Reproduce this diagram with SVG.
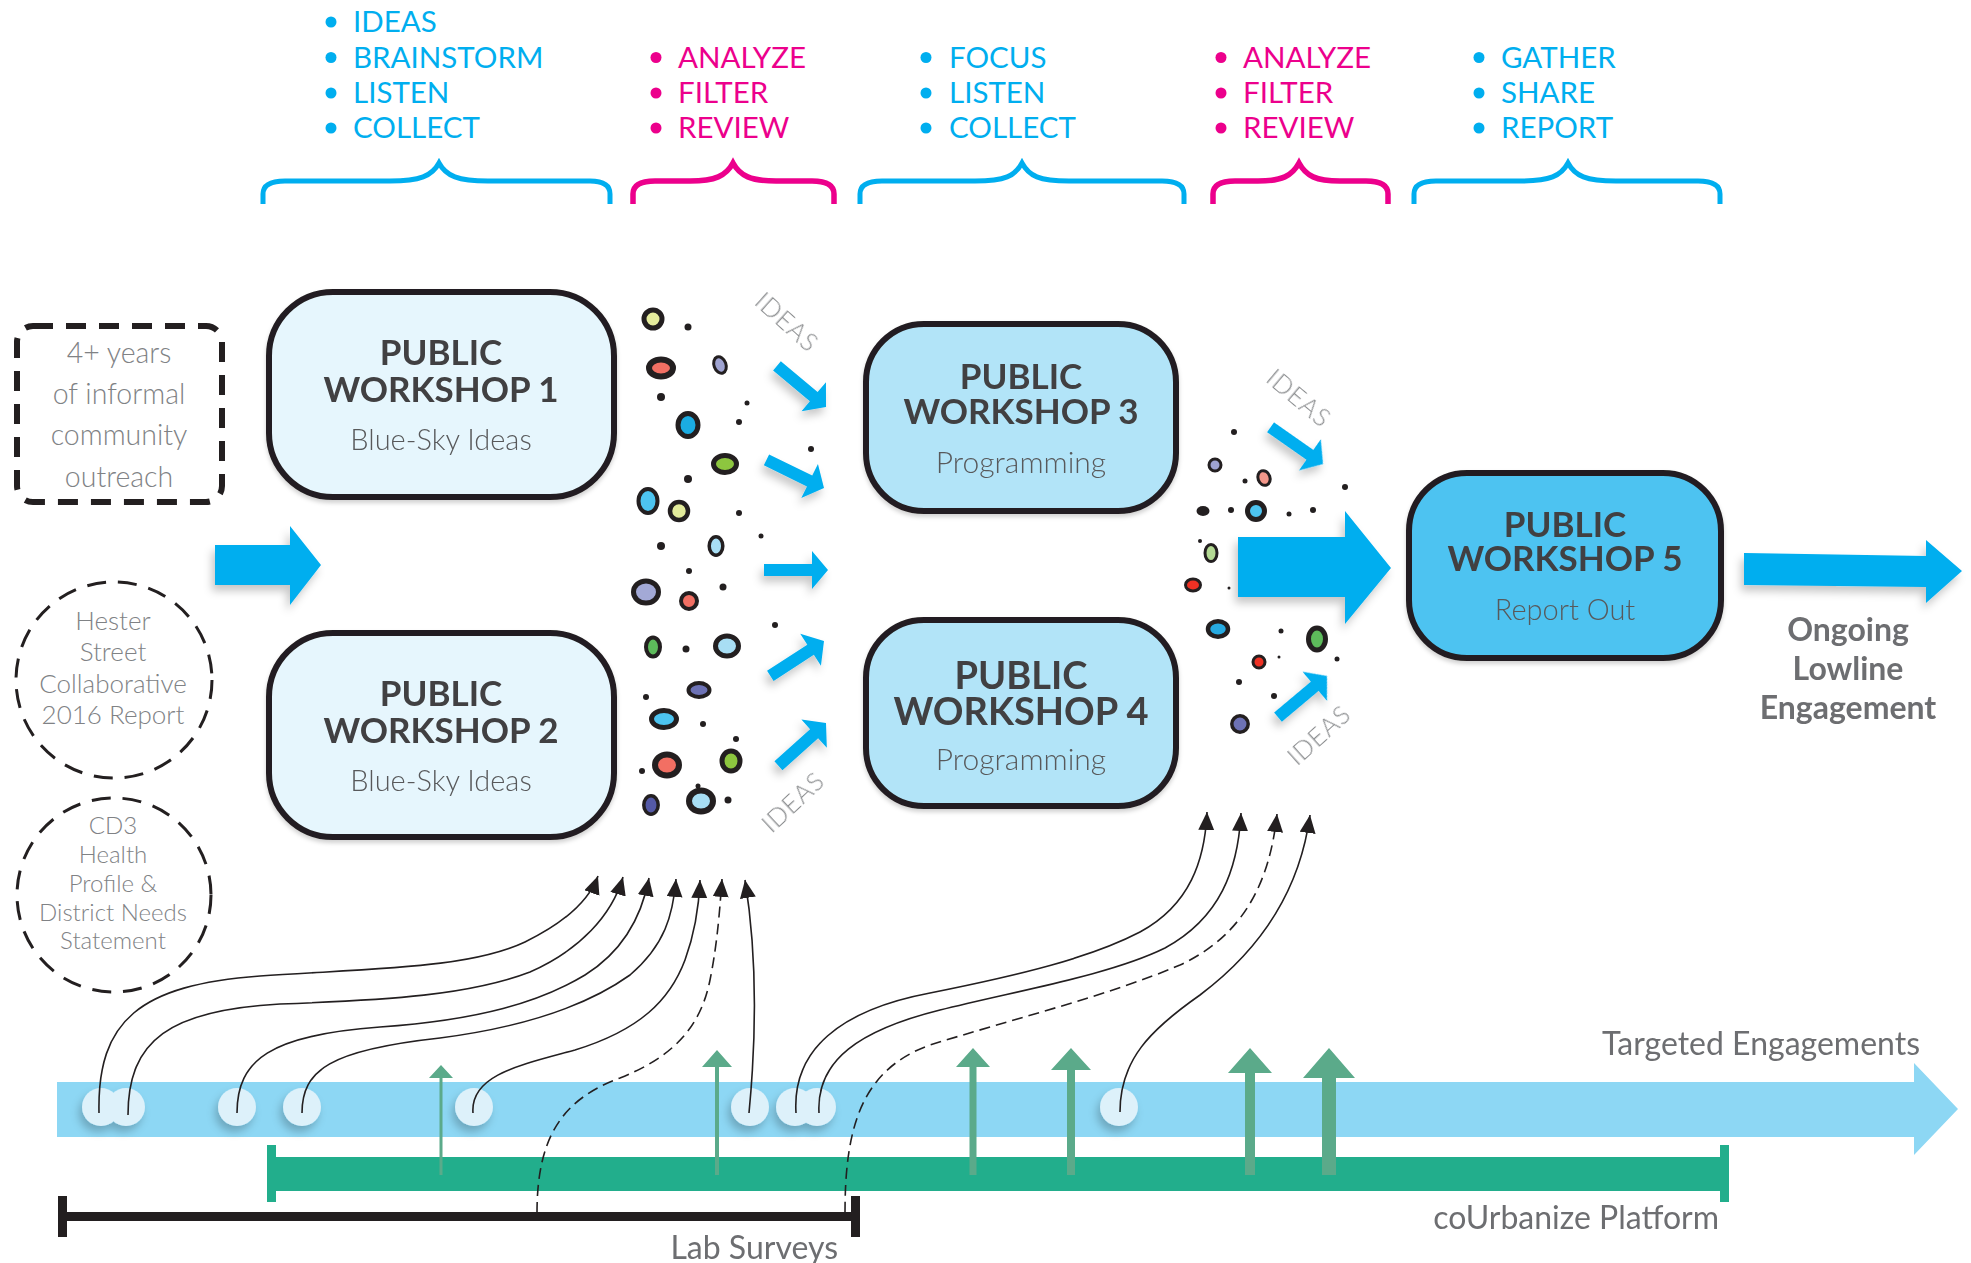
<svg xmlns="http://www.w3.org/2000/svg" xmlns:xlink="http://www.w3.org/1999/xlink" width="1971" height="1263" viewBox="0 0 1971 1263">
<defs>
<style>
text{font-family:Lato,"Liberation Sans",sans-serif}
.lb{fill:#00AEEF;font-size:29.5px}
.lp{fill:#EC008C;font-size:29.5px}
.bb{fill:#00AEEF}
.bp{fill:#EC008C}
.brb{fill:none;stroke:#00AEEF;stroke-width:5;stroke-linecap:butt}
.brp{fill:none;stroke:#EC008C;stroke-width:5.5}
.box{stroke:#231F20;stroke-width:6}
.t1{fill:#414042;font-size:35px;font-weight:700;text-anchor:middle}
.t2{fill:#58595B;font-size:29px;font-weight:300;text-anchor:middle}
.gray{fill:#808285;font-weight:300;text-anchor:middle}
.ideas{fill:#8A8C8E;font-size:25px;font-weight:300;text-anchor:middle;letter-spacing:1px}
.barrow{fill:#00AEEF}
.bub{stroke:#231F20}
.dot{fill:#231F20}
.cur{fill:none;stroke:#231F20;stroke-width:1.6;marker-end:url(#ah)}
.dash{stroke-dasharray:11 6}
.garrow{fill:#5BAA8A}
.bc{fill:#DDF1FA}
.lbl{fill:#6D6E71;font-size:32px;text-anchor:end}
</style>
<filter id="sh" x="-40%" y="-40%" width="180%" height="180%"><feDropShadow dx="-3" dy="6" stdDeviation="4" flood-color="#000" flood-opacity="0.22"/></filter>
<filter id="sh2" x="-20%" y="-20%" width="140%" height="140%"><feDropShadow dx="0" dy="3" stdDeviation="2" flood-color="#000" flood-opacity="0.18"/></filter>
<marker id="ah" markerUnits="userSpaceOnUse" markerWidth="20" markerHeight="18" refX="18" refY="8" orient="auto"><path d="M0,0 L18,8 L0,16 Z" fill="#231F20"/></marker>
<path id="sa" d="M-64,-6 H-16 V-19 L0,0 L-16,19 V6 H-64 Z"/>
</defs>

<g id="lists">
<circle class="bb" cx="331" cy="22" r="5.5"/><text class="lb" x="353" y="32">IDEAS</text>
<circle class="bb" cx="331" cy="57.5" r="5.5"/><text class="lb" x="353" y="67.5">BRAINSTORM</text>
<circle class="bb" cx="331" cy="93" r="5.5"/><text class="lb" x="353" y="103">LISTEN</text>
<circle class="bb" cx="331" cy="128" r="5.5"/><text class="lb" x="353" y="138">COLLECT</text>

<circle class="bp" cx="656" cy="57.5" r="5.5"/><text class="lp" x="678" y="67.5">ANALYZE</text>
<circle class="bp" cx="656" cy="93" r="5.5"/><text class="lp" x="678" y="103">FILTER</text>
<circle class="bp" cx="656" cy="128" r="5.5"/><text class="lp" x="678" y="138">REVIEW</text>

<circle class="bb" cx="926" cy="57.5" r="5.5"/><text class="lb" x="949" y="67.5">FOCUS</text>
<circle class="bb" cx="926" cy="93" r="5.5"/><text class="lb" x="949" y="103">LISTEN</text>
<circle class="bb" cx="926" cy="128" r="5.5"/><text class="lb" x="949" y="138">COLLECT</text>

<circle class="bp" cx="1221" cy="57.5" r="5.5"/><text class="lp" x="1243" y="67.5">ANALYZE</text>
<circle class="bp" cx="1221" cy="93" r="5.5"/><text class="lp" x="1243" y="103">FILTER</text>
<circle class="bp" cx="1221" cy="128" r="5.5"/><text class="lp" x="1243" y="138">REVIEW</text>

<circle class="bb" cx="1479" cy="57.5" r="5.5"/><text class="lb" x="1501" y="67.5">GATHER</text>
<circle class="bb" cx="1479" cy="93" r="5.5"/><text class="lb" x="1501" y="103">SHARE</text>
<circle class="bb" cx="1479" cy="128" r="5.5"/><text class="lb" x="1501" y="138">REPORT</text>
</g>

<g id="brackets">
<path class="brb" d="M263,204 V194 Q263,181 285,181 H390 C420,181 432,176 439,163 C446,176 458,181 488,181 H590 Q610,181 610,194 V204"/>
<path class="brp" d="M633,204 V194 Q633,181 655,181 H690 C715,181 726,176 733,163 C740,176 751,181 776,181 H812 Q834,181 834,194 V204"/>
<path class="brb" d="M860,204 V194 Q860,181 882,181 H975 C1005,181 1015,176 1022,163 C1029,176 1039,181 1069,181 H1162 Q1184,181 1184,194 V204"/>
<path class="brp" d="M1213,204 V194 Q1213,181 1235,181 H1258 C1282,181 1292,176 1299,163 C1306,176 1316,181 1340,181 H1366 Q1388,181 1388,194 V204"/>
<path class="brb" d="M1414,204 V194 Q1414,181 1436,181 H1520 C1550,181 1561,176 1568,163 C1575,176 1586,181 1616,181 H1698 Q1720,181 1720,194 V204"/>
</g>

<g id="outreach">
<rect x="17" y="326" width="205" height="176" rx="16" fill="none" stroke="#231F20" stroke-width="6" stroke-dasharray="20 13"/>
<text class="gray" style="font-size:28.5px" x="119" y="363">4+ years</text>
<text class="gray" style="font-size:28.5px" x="119" y="404">of informal</text>
<text class="gray" style="font-size:28.5px" x="119" y="445">community</text>
<text class="gray" style="font-size:28.5px" x="119" y="487">outreach</text>
</g>

<g id="hester">
<circle cx="114" cy="680" r="98" fill="none" stroke="#231F20" stroke-width="3" stroke-dasharray="19 12"/>
<text class="gray" style="font-size:26px" x="113" y="630">Hester</text>
<text class="gray" style="font-size:26px" x="113" y="661">Street</text>
<text class="gray" style="font-size:26px" x="113" y="693">Collaborative</text>
<text class="gray" style="font-size:26px" x="113" y="724">2016 Report</text>
</g>

<g id="cd3">
<circle cx="114" cy="895" r="97" fill="none" stroke="#231F20" stroke-width="3" stroke-dasharray="19 12"/>
<text class="gray" style="font-size:24px" x="113" y="834">CD3</text>
<text class="gray" style="font-size:24px" x="113" y="863">Health</text>
<text class="gray" style="font-size:24px" x="113" y="892">Profile &amp;</text>
<text class="gray" style="font-size:24px" x="113" y="921">District Needs</text>
<text class="gray" style="font-size:24px" x="113" y="949">Statement</text>
</g>

<g id="arrows-blue" filter="url(#sh)">
<polygon class="barrow" points="215,545 290,545 290,526 321,565 290,605 290,585 215,585"/>
<polygon class="barrow" points="1238,537 1345,537 1345,511 1391,568 1345,624 1345,597 1238,597"/>
<polygon class="barrow" points="1744,553 1926,556 1926,540 1962,571 1926,603 1926,587 1744,585"/>
<use href="#sa" class="barrow" transform="translate(826,407) rotate(40)"/>
<use href="#sa" class="barrow" transform="translate(824,488) rotate(26)"/>
<use href="#sa" class="barrow" transform="translate(828,570)"/>
<use href="#sa" class="barrow" transform="translate(824,641) rotate(-33)"/>
<use href="#sa" class="barrow" transform="translate(826,723) rotate(-42)"/>
<use href="#sa" class="barrow" transform="translate(1323,464) rotate(35)"/>
<use href="#sa" class="barrow" transform="translate(1327,676) rotate(-40)"/>
</g>

<g id="ideas-labels">
<text class="ideas" x="787" y="331" transform="rotate(42 787 322)">IDEAS</text>
<text class="ideas" x="793" y="811" transform="rotate(-43 793 802)">IDEAS</text>
<text class="ideas" x="1299" y="407" transform="rotate(40 1299 398)">IDEAS</text>
<text class="ideas" x="1319" y="744" transform="rotate(-42 1319 735)">IDEAS</text>
</g>

<g id="workshop1">
<rect class="box" x="269" y="292" width="345" height="205" rx="64" fill="#E6F6FD" filter="url(#sh2)"/>
<text class="t1" x="441" y="365">PUBLIC</text>
<text class="t1" x="441" y="402">WORKSHOP 1</text>
<text class="t2" x="441" y="450">Blue-Sky Ideas</text>
</g>
<g id="workshop2">
<rect class="box" x="269" y="633" width="345" height="204" rx="64" fill="#E6F6FD" filter="url(#sh2)"/>
<text class="t1" x="441" y="706">PUBLIC</text>
<text class="t1" x="441" y="743">WORKSHOP 2</text>
<text class="t2" x="441" y="791">Blue-Sky Ideas</text>
</g>
<g id="workshop3">
<rect class="box" x="866" y="324" width="310" height="187" rx="58" fill="#B2E4F8" filter="url(#sh2)"/>
<text class="t1" x="1021" y="389">PUBLIC</text>
<text class="t1" x="1021" y="424">WORKSHOP 3</text>
<text class="t2" x="1021" y="473" style="font-size:30px">Programming</text>
</g>
<g id="workshop4">
<rect class="box" x="866" y="620" width="310" height="186" rx="58" fill="#B2E4F8" filter="url(#sh2)"/>
<text class="t1" x="1021" y="689" style="font-size:38px">PUBLIC</text>
<text class="t1" x="1021" y="725" style="font-size:38px">WORKSHOP 4</text>
<text class="t2" x="1021" y="770" style="font-size:30px">Programming</text>
</g>
<g id="workshop5">
<rect class="box" x="1409" y="473" width="312" height="185" rx="58" fill="#4EC3F1" filter="url(#sh2)"/>
<text class="t1" x="1565" y="537">PUBLIC</text>
<text class="t1" x="1565" y="571">WORKSHOP 5</text>
<text class="t2" x="1565" y="620">Report Out</text>
</g>

<g id="ongoing">
<text fill="#6D6E71" font-size="32" font-weight="700" text-anchor="middle" x="1848" y="641">Ongoing</text>
<text fill="#6D6E71" font-size="32" font-weight="700" text-anchor="middle" x="1848" y="680">Lowline</text>
<text fill="#6D6E71" font-size="32" font-weight="700" text-anchor="middle" x="1848" y="719">Engagement</text>
</g>

<g id="bubbles-left">
<ellipse class="bub" cx="653" cy="319" rx="9" ry="9" stroke-width="5" fill="#E5EC9D"/>
<ellipse class="bub" cx="661" cy="368" rx="12" ry="8.5" stroke-width="6" fill="#F26F63"/>
<ellipse class="bub" cx="720" cy="365" rx="6" ry="8.5" stroke-width="3" fill="#9FA3D1" transform="rotate(-20 720 365)"/>
<ellipse class="bub" cx="688" cy="425" rx="10" ry="11.5" stroke-width="5" fill="#1BACE2"/>
<ellipse class="bub" cx="725" cy="464" rx="11.5" ry="8.5" stroke-width="5" fill="#8DC63F"/>
<ellipse class="bub" cx="648" cy="501" rx="9.5" ry="12" stroke-width="4" fill="#4DC4F0"/>
<ellipse class="bub" cx="679" cy="511" rx="9" ry="9" stroke-width="4.5" fill="#E2EB9B"/>
<ellipse class="bub" cx="716" cy="546" rx="6.8" ry="9.3" stroke-width="3.5" fill="#A8DEF4"/>
<ellipse class="bub" cx="646" cy="592" rx="12.5" ry="11" stroke-width="5" fill="#A3A9D6"/>
<ellipse class="bub" cx="689" cy="601" rx="8" ry="8" stroke-width="4" fill="#F26F63"/>
<ellipse class="bub" cx="653" cy="647" rx="7" ry="9.5" stroke-width="4" fill="#5DBB5B"/>
<ellipse class="bub" cx="727" cy="646" rx="11.5" ry="10" stroke-width="5" fill="#A8DEF4"/>
<ellipse class="bub" cx="699" cy="690" rx="10.5" ry="7" stroke-width="4" fill="#6D72B5"/>
<ellipse class="bub" cx="664" cy="719" rx="12.5" ry="8.5" stroke-width="5" fill="#4DC4F0"/>
<ellipse class="bub" cx="667" cy="765" rx="12" ry="10.5" stroke-width="6" fill="#F26F63"/>
<ellipse class="bub" cx="731" cy="761" rx="9" ry="10" stroke-width="5" fill="#8DC63F"/>
<ellipse class="bub" cx="651" cy="805" rx="7.2" ry="9.2" stroke-width="3.5" fill="#5459A6"/>
<ellipse class="bub" cx="701" cy="801" rx="12" ry="10.5" stroke-width="6" fill="#A8DEF4"/>
<circle class="dot" cx="688" cy="327" r="3.5"/><circle class="dot" cx="661" cy="397" r="4"/>
<circle class="dot" cx="747" cy="403" r="2.5"/><circle class="dot" cx="739" cy="422" r="3"/>
<circle class="dot" cx="811" cy="449" r="3"/><circle class="dot" cx="688" cy="479" r="4"/>
<circle class="dot" cx="739" cy="513" r="3"/><circle class="dot" cx="761" cy="536" r="2.5"/>
<circle class="dot" cx="661" cy="546" r="4"/><circle class="dot" cx="689" cy="571" r="3"/>
<circle class="dot" cx="723" cy="587" r="3.5"/><circle class="dot" cx="775" cy="625" r="3"/>
<circle class="dot" cx="686" cy="649" r="3.5"/><circle class="dot" cx="646" cy="697" r="3"/>
<circle class="dot" cx="703" cy="724" r="3"/><circle class="dot" cx="736" cy="739" r="3"/>
<circle class="dot" cx="642" cy="771" r="3"/><circle class="dot" cx="698" cy="786" r="2.5"/>
<circle class="dot" cx="728" cy="800" r="3.5"/>
</g>

<g id="bubbles-right">
<ellipse class="bub" cx="1215" cy="465" rx="6" ry="6" stroke-width="3" fill="#9FA3D1"/>
<ellipse class="bub" cx="1264" cy="478" rx="6" ry="7.5" stroke-width="3" fill="#F4978A" transform="rotate(-20 1264 478)"/>
<ellipse class="bub" cx="1256" cy="511" rx="8.5" ry="8.5" stroke-width="5" fill="#4DC4F0"/>
<ellipse class="bub" cx="1211" cy="553" rx="6" ry="8.5" stroke-width="3" fill="#B4DA94"/>
<ellipse class="bub" cx="1193" cy="585" rx="7.5" ry="6" stroke-width="3" fill="#EE3124"/>
<ellipse class="bub" cx="1218" cy="629" rx="10" ry="7.8" stroke-width="4.5" fill="#27AAE1"/>
<ellipse class="bub" cx="1317" cy="639" rx="8.5" ry="11" stroke-width="5" fill="#5DBB5B"/>
<ellipse class="bub" cx="1259" cy="662" rx="6" ry="6" stroke-width="3" fill="#EE3124"/>
<ellipse class="bub" cx="1240" cy="724" rx="8.2" ry="8.2" stroke-width="3.5" fill="#6D72B5"/>
<ellipse class="dot" cx="1203" cy="511" rx="6.5" ry="5"/>
<circle class="dot" cx="1234" cy="432" r="3"/><circle class="dot" cx="1245" cy="481" r="2.5"/>
<circle class="dot" cx="1345" cy="487" r="3"/><circle class="dot" cx="1231" cy="510" r="3"/>
<circle class="dot" cx="1289" cy="514" r="2.5"/><circle class="dot" cx="1313" cy="510" r="3"/>
<circle class="dot" cx="1200" cy="541" r="2"/><circle class="dot" cx="1229" cy="588" r="1.5"/>
<circle class="dot" cx="1281" cy="631" r="2.5"/><circle class="dot" cx="1279" cy="657" r="1.5"/>
<circle class="dot" cx="1337" cy="659" r="2.5"/><circle class="dot" cx="1239" cy="682" r="3"/>
<circle class="dot" cx="1274" cy="696" r="3"/>
</g>

<g id="targeted-engagements">
<path d="M57,1082 H1914 V1063 L1958,1109 L1914,1155 V1137 H57 Z" fill="#8DD7F4"/>
<text class="lbl" x="1920" y="1055">Targeted Engagements</text>
</g>

<g id="courbanize">
<rect x="272" y="1157" width="1450" height="34" fill="#22AE8C"/>
<rect x="267" y="1145" width="9" height="57" fill="#22AE8C"/>
<rect x="1720" y="1145" width="9" height="57" fill="#22AE8C"/>
<text class="lbl" x="1719" y="1229">coUrbanize Platform</text>
</g>

<g id="lab-surveys">
<rect x="60" y="1212" width="798" height="9" fill="#231F20"/>
<rect x="58" y="1196" width="9" height="41" fill="#231F20"/>
<rect x="851" y="1196" width="9" height="41" fill="#231F20"/>
<text class="lbl" x="838" y="1259">Lab Surveys</text>
</g>

<g id="green-arrows">
<path class="garrow" d="M439.5,1175 V1078 H429 L441,1065 L453,1078 H442.5 V1175 Z"/>
<path class="garrow" d="M715,1175 V1067 H702 L717,1050 L732,1067 H719 V1175 Z"/>
<path class="garrow" d="M969.5,1175 V1067 H956 L973,1048 L990,1067 H976.5 V1175 Z"/>
<path class="garrow" d="M1067,1175 V1070 H1051 L1071,1048 L1091,1070 H1075 V1175 Z"/>
<path class="garrow" d="M1245,1175 V1073 H1228 L1250,1048 L1272,1073 H1255 V1175 Z"/>
<path class="garrow" d="M1322,1175 V1078 H1303 L1329,1048 L1355,1078 H1336 V1175 Z"/>
</g>

<g id="engagement-points" filter="url(#sh)">
<circle class="bc" cx="101" cy="1107" r="19"/>
<circle class="bc" cx="126" cy="1107" r="19"/>
<circle class="bc" cx="237" cy="1107" r="19"/>
<circle class="bc" cx="302" cy="1107" r="19"/>
<circle class="bc" cx="474" cy="1107" r="19"/>
<circle class="bc" cx="750" cy="1107" r="19"/>
<circle class="bc" cx="795" cy="1107" r="19"/>
<circle class="bc" cx="817" cy="1107" r="19"/>
<circle class="bc" cx="1119" cy="1107" r="19"/>
</g>

<g id="connectors">
<path class="cur" d="M99,1113 C97,1020 140,985 260,976 C380,968 470,968 525,942 C570,920 590,898 598,876"/>
<path class="cur" d="M128,1115 C128,1040 170,1010 280,1004 C390,1000 470,995 530,972 C580,950 612,915 623,877"/>
<path class="cur" d="M237,1113 C237,1060 270,1035 380,1027 C480,1020 540,1002 585,975 C625,950 642,915 649,878"/>
<path class="cur" d="M302,1113 C302,1070 330,1050 440,1038 C540,1025 595,1000 630,975 C665,945 673,915 676,879"/>
<path class="cur" d="M473,1113 C470,1075 520,1065 575,1050 C640,1030 670,1000 685,960 C696,930 699,905 700,880"/>
<path class="cur dash" d="M537,1213 C537,1140 560,1100 620,1078 C670,1058 700,1030 710,980 C718,940 720,905 722,879"/>
<path class="cur" d="M749,1113 C756,1040 758,960 745,880"/>
<path class="cur" d="M796,1113 C792,1050 840,1010 930,993 C1020,975 1090,958 1140,932 C1190,905 1205,860 1207,812"/>
<path class="cur" d="M819,1113 C816,1060 860,1030 940,1010 C1020,990 1110,975 1165,948 C1220,918 1238,870 1241,813"/>
<path class="cur dash" d="M845,1213 C845,1130 860,1070 930,1045 C1010,1020 1110,995 1180,965 C1245,935 1270,880 1277,814"/>
<path class="cur" d="M1120,1112 C1120,1060 1150,1030 1200,995 C1260,950 1300,890 1310,815"/>
</g>
</svg>
